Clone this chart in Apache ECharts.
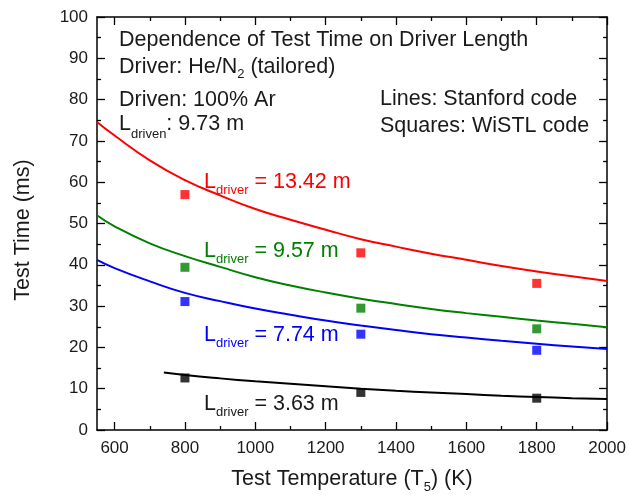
<!DOCTYPE html>
<html>
<head>
<meta charset="utf-8">
<script src="https://cdn.jsdelivr.net/npm/echarts@6/dist/echarts.min.js"></script>
<style>
html,body{margin:0;padding:0;background:#fff;}
#chart{width:629px;height:495px;}
</style>
</head>
<body>
<div id="chart"></div>
<script>
// Curve temperatures (K) for the Stanford-code lines
const lineTemps = [550, 600, 700, 800, 900, 1000, 1100, 1200, 1300, 1400, 1500, 1600, 1700, 1800, 1900, 2000];
const lineRed   = [74.6, 71.3, 65.3, 60.5, 56.8, 53.5, 50.9, 48.5, 46.2, 44.4, 42.7, 41.2, 39.7, 38.4, 37.2, 36.1];
const lineGreen = [52.0, 49.3, 45.2, 42.1, 39.5, 37.0, 35.0, 33.3, 31.8, 30.5, 29.3, 28.3, 27.4, 26.5, 25.7, 24.9];
const lineBlue  = [41.2, 39.2, 36.0, 33.2, 31.2, 29.4, 27.9, 26.5, 25.3, 24.2, 23.2, 22.4, 21.6, 20.9, 20.2, 19.6];
const blackTemps = [740, 800, 900, 1000, 1100, 1200, 1300, 1400, 1500, 1600, 1700, 1800, 1900, 2000];
const lineBlack = [13.9, 13.3, 12.5, 11.8, 11.2, 10.6, 10.0, 9.5, 9.1, 8.7, 8.3, 8.0, 7.7, 7.5];

// WiSTL-code squares
const squareTemps = [800, 1300, 1800];
const sqRed   = [57.0, 42.9, 35.5];
const sqGreen = [39.4, 29.5, 24.5];
const sqBlue  = [31.1, 23.2, 19.3];
const sqBlack = [12.6, 9.1, 7.7];

// Ticks
const xMajorTicks = [600, 800, 1000, 1200, 1400, 1600, 1800, 2000];
const xMinorTicks = [700, 900, 1100, 1300, 1500, 1700, 1900];

const FONT = "'Liberation Sans', Arial, sans-serif";
const RED = '#ff0000', GREEN = '#008000', BLUE = '#0000ff', BLACK = '#000000';

function pairs(xs, ys) { return xs.map((x, i) => [x, ys[i]]); }

function lineSeries(xs, ys, color) {
  return { type: 'line', data: pairs(xs, ys), smooth: true, showSymbol: false, symbol: 'none',
    lineStyle: { color: color, width: 2 }, itemStyle: { color: color }, z: 2, animation: false };
}
function sqSeries(ys, color) {
  return { type: 'scatter', data: pairs(squareTemps, ys), symbol: 'rect', symbolSize: 9,
    itemStyle: { color: color }, z: 3, animation: false };
}

const axisLineStyle = { color: '#000', width: 1.5 };
function xAx(pos, values, len, showLine, showLabel) {
  return {
    type: 'value', position: pos, min: 550, max: 2000,
    axisLine: { show: showLine, onZero: false, lineStyle: axisLineStyle },
    axisTick: { show: true, inside: true, length: len, customValues: values, lineStyle: { color: '#000', width: 1.3 } },
    axisLabel: { show: showLabel, customValues: values, margin: 10, fontSize: 17, fontFamily: FONT, color: '#1a1a1a',
      formatter: function (v) { return String(v); } },
    splitLine: { show: false }
  };
}
function yAx(pos, showLabel) {
  return {
    type: 'value', position: pos, min: 0, max: 100, interval: 10,
    axisLine: { show: true, onZero: false, lineStyle: axisLineStyle },
    axisTick: { show: true, inside: true, length: 8, lineStyle: { color: '#000', width: 1.3 } },
    minorTick: { show: true, splitNumber: 2, length: 4, lineStyle: { color: '#000', width: 1.3 } },
    axisLabel: { show: showLabel, margin: 9, fontSize: 17, fontFamily: FONT, color: '#1a1a1a',
      formatter: function (v) { return String(v); } },
    splitLine: { show: false }
  };
}

function txt(x, y, text, color, opts) {
  opts = opts || {};
  return {
    type: 'text', x: x, y: y, rotation: opts.rotation || 0, z: 10,
    style: {
      text: text, fill: color, fontSize: opts.size || 21.5, fontFamily: FONT,
      align: opts.align || 'left', textAlign: opts.align || 'left',
      verticalAlign: 'middle', textVerticalAlign: 'middle',
      rich: {
        sub: { fontSize: 13, fontFamily: FONT, fill: color, padding: [opts.subPad || 16, 0, 0, 0] }
      }
    }
  };
}

const chart = echarts.init(document.getElementById('chart'), null, { renderer: 'canvas' });
chart.setOption({
  animation: false,
  backgroundColor: '#fff',
  grid: { left: 97, right: 21, top: 17, bottom: 65, containLabel: false },
  xAxis: [
    xAx('bottom', xMajorTicks, 8, true, true),
    xAx('bottom', xMinorTicks, 4, false, false),
    xAx('top', xMajorTicks, 8, true, false),
    xAx('top', xMinorTicks, 4, false, false)
  ],
  yAxis: [ yAx('left', true), yAx('right', false) ],
  series: [
    lineSeries(lineTemps, lineRed, RED),
    lineSeries(lineTemps, lineGreen, GREEN),
    lineSeries(lineTemps, lineBlue, BLUE),
    lineSeries(blackTemps, lineBlack, BLACK),
    sqSeries(sqRed, RED),
    sqSeries(sqGreen, GREEN),
    sqSeries(sqBlue, BLUE),
    sqSeries(sqBlack, BLACK)
  ],
  graphic: [
    txt(119, 40, 'Dependence of Test Time on Driver Length', '#1a1a1a'),
    txt(119, 67, 'Driver: He/N{sub|2} (tailored)', '#1a1a1a', { subPad: 14 }),
    txt(119, 100, 'Driven: 100% Ar', '#1a1a1a'),
    txt(119, 124, 'L{sub|driven}: 9.73 m', '#1a1a1a', { subPad: 20 }),
    txt(380, 99, 'Lines: Stanford code', '#1a1a1a'),
    txt(380, 126, 'Squares: WiSTL code', '#1a1a1a'),
    txt(204, 182, 'L{sub|driver} = 13.42 m', RED),
    txt(204, 251, 'L{sub|driver} = 9.57 m', GREEN),
    txt(204, 335, 'L{sub|driver} = 7.74 m', BLUE),
    txt(204, 404, 'L{sub|driver} = 3.63 m', '#1a1a1a'),
    txt(352, 479, 'Test Temperature (T{sub|5}) (K)', '#1a1a1a', { align: 'center', subPad: 16 }),
    txt(23, 230, 'Test Time (ms)', '#1a1a1a', { align: 'center', rotation: Math.PI / 2 })
  ]
});
</script>
</body>
</html>
